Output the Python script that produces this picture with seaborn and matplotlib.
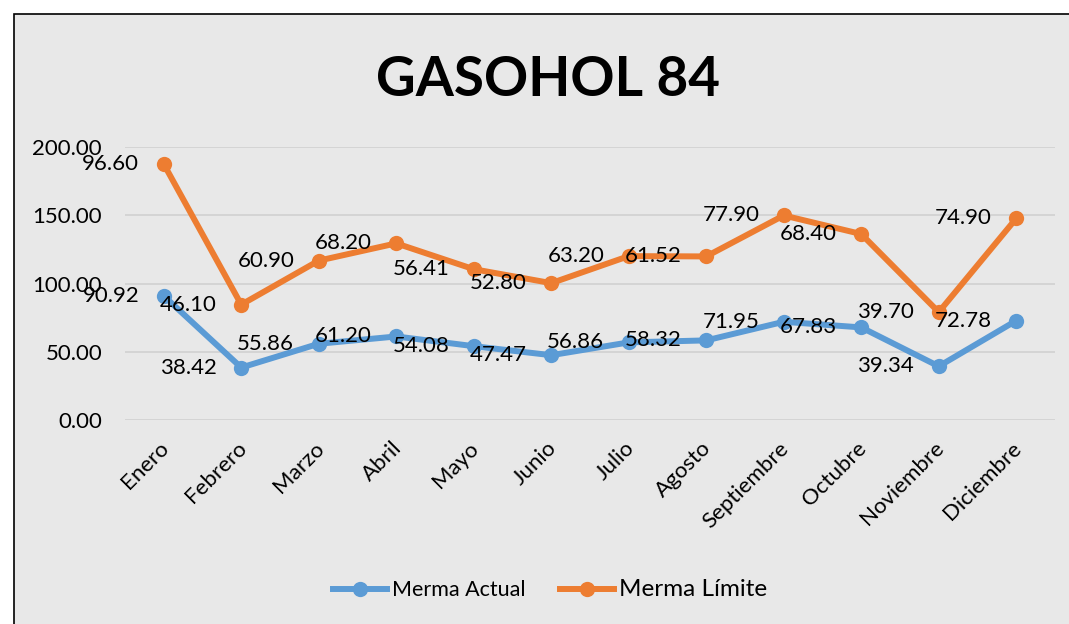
import pandas as pd
import numpy as np
import matplotlib.pyplot as plt
import matplotlib.transforms as mtransforms
import seaborn as sns
from matplotlib.patches import Rectangle

meses = ['Enero', 'Febrero', 'Marzo', 'Abril', 'Mayo', 'Junio', 'Julio',
         'Agosto', 'Septiembre', 'Octubre', 'Noviembre', 'Diciembre']
merma_actual = [90.92, 38.42, 55.86, 61.20, 54.08, 47.47, 56.86, 58.32, 71.95, 67.83, 39.34, 72.78]
merma_limite = [96.60, 46.10, 60.90, 68.20, 56.41, 52.80, 63.20, 61.52, 77.90, 68.40, 39.70, 74.90]

# stacked line chart: second series sits on top of the first
apilado = [a + b for a, b in zip(merma_actual, merma_limite)]

df = pd.DataFrame({
    'Mes': meses * 2,
    'Valor': merma_actual + apilado,
    'Serie': ['Merma Actual'] * 12 + ['Merma Límite'] * 12,
})

azul = '#5B9BD5'
naranja = '#ED7D31'
fondo = '#E8E8E8'

plt.rcParams['font.family'] = ['Lato', 'DejaVu Sans']

fig = plt.figure(figsize=(10.69, 6.24), dpi=100)
fig.patch.set_facecolor('white')

# chart area with border (background axes)
bg = fig.add_axes([0, 0, 1, 1], zorder=-1)
bg.set_xlim(0, 1069)
bg.set_ylim(624, 0)
bg.axis('off')
bg.add_patch(Rectangle((14, 14), 1100, 700, facecolor=fondo, edgecolor='black', linewidth=1.2))

ax = fig.add_axes([125 / 1069, 1 - 420 / 624, 930 / 1069, 273 / 624])
ax.set_facecolor(fondo)
ax.patch.set_alpha(0)

sns.lineplot(data=df, x='Mes', y='Valor', hue='Serie', palette=[azul, naranja],
             marker='o', markersize=11, markeredgewidth=0, linewidth=4.3,
             sort=False, ax=ax)

for s in ax.spines.values():
    s.set_visible(False)

ax.set_ylim(0, 200)
ax.set_xlim(-0.5, 11.5)
ax.set_yticks(np.arange(0, 201, 50))
ax.set_yticklabels([f'{v:.2f}' for v in np.arange(0, 201, 50)], fontsize=16)
ax.yaxis.grid(True, color='#D4D4D4', linewidth=1.4)
ax.set_axisbelow(True)
ax.tick_params(axis='both', length=0)
ax.tick_params(axis='y', pad=16.5)
ax.tick_params(axis='x', pad=13)
ax.set_xticks(range(12))
ax.set_xticklabels(meses, rotation=45, ha='right', rotation_mode='anchor', fontsize=16)
shift = mtransforms.ScaledTranslation(-5 / 100, 0, fig.dpi_scale_trans)
for lab in ax.get_xticklabels():
    lab.set_transform(lab.get_transform() + shift)
ax.set_xlabel('')
ax.set_ylabel('')

for i in range(12):
    ax.annotate(f'{merma_actual[i]:.2f}', (i, merma_actual[i]), xytext=(-53, 0),
                textcoords='offset pixels', ha='center', va='center', fontsize=16)
    ax.annotate(f'{merma_limite[i]:.2f}', (i, apilado[i]), xytext=(-53, 0),
                textcoords='offset pixels', ha='center', va='center', fontsize=16)

fig.text(548 / 1069, 1 - 80 / 624, 'GASOHOL 84', ha='center', va='center',
         fontsize=39.5, fontweight='bold')

leg = ax.legend(loc='center', bbox_to_anchor=(550 / 1069, 1 - 590 / 624),
                bbox_transform=fig.transFigure, ncol=2, frameon=False,
                fontsize=15.5, handlelength=2.5, columnspacing=1.6, handletextpad=0.25)
texts = leg.get_texts()
texts[1].set_fontsize(17.5)

fig.savefig('out.png', dpi=100, facecolor=fig.get_facecolor())
